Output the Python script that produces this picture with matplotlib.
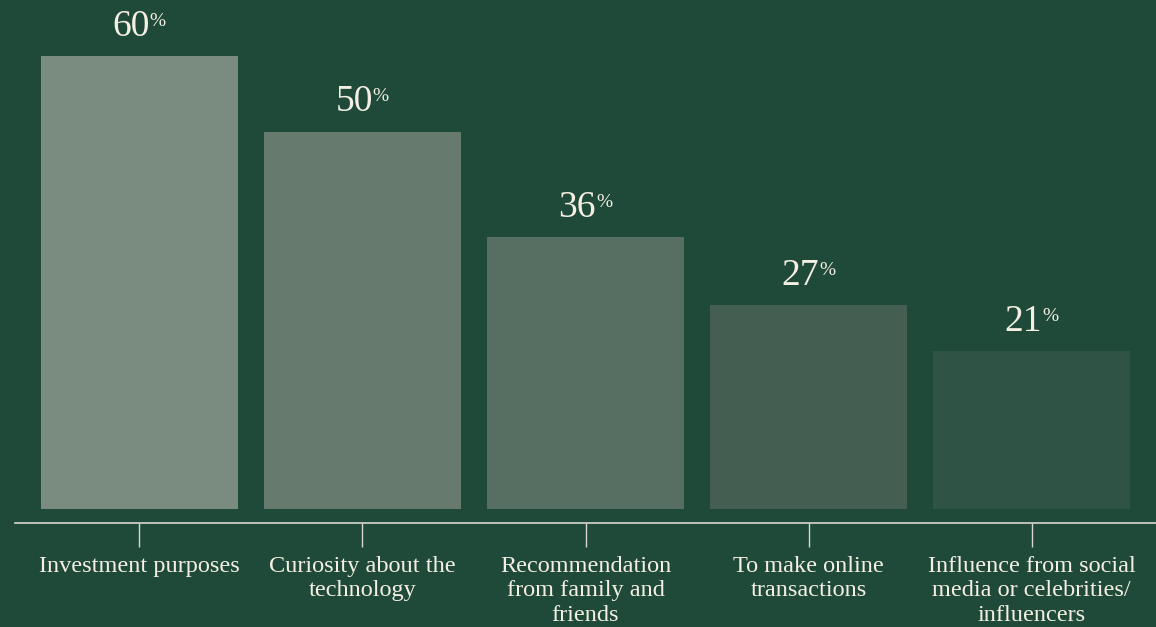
import matplotlib.pyplot as plt

# survey results: reasons for buying
reasons = [
    "Investment purposes",
    "Curiosity about the\ntechnology",
    "Recommendation\nfrom family and\nfriends",
    "To make online\ntransactions",
    "Influence from social\nmedia or celebrities/\ninfluencers",
]
shares = [60, 50, 36, 27, 21]
bar_colors = ["#7a8b80", "#677a6e", "#566f62", "#445f51", "#2f5345"]

bg = "#1f4a3a"
cream = "#f4efe2"

plt.rcParams["font.family"] = ["Liberation Serif", "DejaVu Serif"]

fig = plt.figure(figsize=(11.56, 6.27), dpi=100, facecolor=bg)
ax = fig.add_axes([15 / 1156, 104 / 627, 1141 / 1156, 523 / 627])
ax.set_facecolor(bg)

x = list(range(len(shares)))
ax.bar(x, shares, width=0.883, color=bar_colors)

ax.set_xlim(-0.558, 4.558)
ax.set_ylim(-1.79, 67.4)

for side in ["top", "right", "left"]:
    ax.spines[side].set_visible(False)
ax.spines["bottom"].set_color("#d8d6cc")
ax.spines["bottom"].set_linewidth(1.2)

ax.set_yticks([])
ax.set_xticks(x)
ax.set_xticklabels(reasons, fontsize=17.5, color=cream, linespacing=1.22)
ax.tick_params(axis="x", direction="out", length=17.5, width=1.0,
               color="#d8d6cc", pad=6)

# value labels with a small raised percent sign
for xi, v in zip(x, shares):
    num = ax.annotate(str(v), xy=(xi, v), xytext=(-6, 14.5),
                      textcoords="offset points", ha="center", va="baseline",
                      fontsize=27, color=cream)
    ax.annotate("%", xy=(1, 0.9), xycoords=num, xytext=(0, 0),
                textcoords="offset points", ha="left", va="top",
                fontsize=14, color=cream)

fig.savefig("out.png", dpi=100, facecolor=bg)
